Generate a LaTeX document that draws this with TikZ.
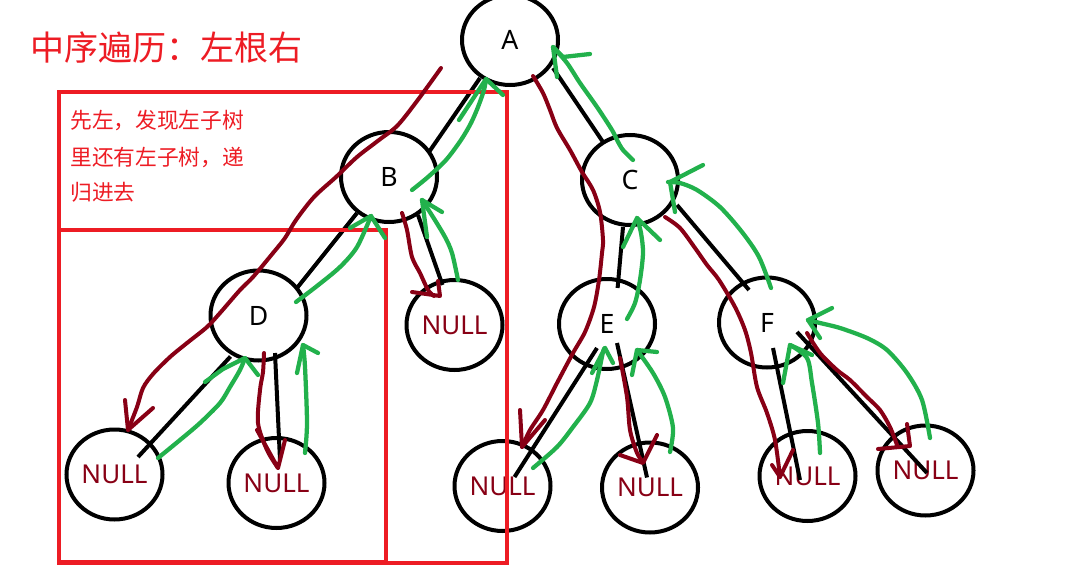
\documentclass[tikz,border=0pt]{standalone}
\usepackage{fontspec}
\setmainfont{Noto Sans}
\newfontfamily\cjk{Noto Sans CJK SC}
\usetikzlibrary{shapes.geometric,calc}
\definecolor{dkred}{HTML}{880015}
\definecolor{grn}{HTML}{22B14C}
\definecolor{boxred}{HTML}{ED1C24}
\tikzset{
  nd/.style={ellipse,draw=black,line width=3pt,minimum width=72pt,minimum height=67.5pt,inner sep=0pt,font=\fontsize{20}{24}\selectfont,fill=white},
  nullnd/.style={nd,text=dkred,font=\fontsize{19.5}{23}\selectfont},
  edge/.style={draw=black,line width=3pt},
  godown/.style={draw=dkred,line width=3pt,line cap=round,line join=round},
  goup/.style={draw=grn,line width=3.2pt,line cap=round,line join=round},
  frame/.style={draw=boxred,line width=3.7pt},
  note/.style={text=boxred,font=\cjk\fontsize{16.3}{20}\selectfont,inner sep=0pt,anchor=west}
}
\begin{document}
\begin{tikzpicture}[x=0.75pt,y=-0.75pt]
\useasboundingbox (0,0) rectangle (1066,578);
% nodes
\node[nd] (A) at (510,40) {A};
\node[nd] (B) at (389,177) {B};
\node[nd] (C) at (630,180) {C};
\node[nd] (D) at (258.5,315.5) {D};
\node[nd] (E) at (607,324) {E};
\node[nd] (F) at (767,322.5) {F};
\node[nullnd] (n1) at (114.5,474.5) {NULL};
\node[nullnd] (n2) at (276.5,483) {NULL};
\node[nullnd] (n3) at (454.5,325) {NULL};
\node[nullnd] (n4) at (502.5,486) {NULL};
\node[nullnd] (n5) at (650,487.5) {NULL};
\node[nullnd] (n6) at (807.5,476) {NULL};
\node[nullnd] (n7) at (925.5,470.5) {NULL};
% black tree edges
\draw[edge] ($(A)+(-30,38)$) -- ($(B)+(40,-25)$);
\draw[edge] ($(A)+(43,28)$) -- ($(C)+(-27,-38)$);
\draw[edge] ($(B)+(-32,36)$) -- ($(D)+(38.5,-27.5)$);
\draw[edge] ($(B)+(29,38)$) -- ($(n3)+(-12,-40)$);
\draw[edge] ($(D)+(-28,41)$) -- ($(n1)+(23.5,-17.5)$);
\draw[edge] ($(D)+(16.5,37.5)$) -- ($(n2)+(3.5,-23)$);
\draw[edge] ($(C)+(-7,47)$) -- ($(E)+(10.6,-36)$);
\draw[edge] ($(C)+(47,25)$) -- ($(F)+(-18,-32.5)$);
\draw[edge] ($(E)+(-10,24)$) -- ($(n4)+(12,-9)$);
\draw[edge] ($(E)+(10,19)$) -- ($(n5)+(-3,-10)$);
\draw[edge] ($(F)+(6,25.5)$) -- ($(n6)+(-7.5,4)$);
\draw[edge] ($(F)+(30,9.5)$) -- ($(n7)+(1.5,2.5)$);
% title and note
\node[text=boxred,font=\cjk\fontsize{25.5}{30}\selectfont,inner sep=0pt] (title) at (166,48) {中序遍历：左根右};
\node[note] (t1) at (70,120) {先左，发现左子树};
\node[note] (t2) at (70,157) {里还有左子树，递};
\node[note] (t3) at (70,192) {归进去};
% red frames
\draw[frame] (59,92) rectangle (507,563);
\draw[frame] (59,230) rectangle (386,562);
% descending strokes (dark red)
\draw[godown] plot[smooth,tension=0.5] coordinates {(441,68) (420,97) (398,125) (379,140) (357,157) (336,177) (314,197) (296,220) (285,238) (273,253) (253,277) (240,290) (220,313) (207,327) (187,343) (170,357) (153,374) (143,388) (137,407) (128,430)};
\draw[godown] (125,400) -- (128,430) -- (153,408);
\draw[godown] plot[smooth,tension=0.5] coordinates {(402,213) (407,230) (412,257) (420,273) (428,290) (434,296)};
\draw[godown] (412,292) -- (440,296) -- (438,281);
\draw[godown] plot[smooth,tension=0.5] coordinates {(264,353) (263,372) (260,390) (258,423) (267,450) (278,468)};
\draw[godown] (257,430) -- (278,468) -- (285,440);
\draw[godown] plot[smooth,tension=0.5] coordinates {(533,76) (543,93) (550,110) (557,128) (570,150) (582,172) (593,190) (600,212) (603,240) (602,253) (599,280) (594,307) (585,332) (573,353) (557,383) (543,410) (530,430) (522,447)};
\draw[godown] (520,410) -- (522,447) -- (545,420);
\draw[godown] plot[smooth,tension=0.5] coordinates {(665,217) (680,228) (695,248) (707,265) (719,280) (735,307) (745,330) (751,353) (757,387) (767,413) (775,440) (780,477)};
\draw[godown] (772,465) -- (780,477) -- (793,450);
\draw[godown] plot[smooth,tension=0.5] coordinates {(620,358) (627,397) (630,430) (637,453) (643,462)};
\draw[godown] (620,455) -- (643,463) -- (657,435);
\draw[godown] plot[smooth,tension=0.5] coordinates {(807,333) (820,353) (837,370) (850,380) (867,397) (880,410) (890,427) (897,445)};
\draw[godown] (878,449) -- (910,446) -- (907,424);
% returning strokes (green)
\draw[goup] plot[smooth,tension=0.5] coordinates {(158,458) (180,440) (200,423) (220,403) (230,387) (240,370) (245,358)};
\draw[goup] (205,382) -- (223,369) -- (245,358) -- (258,375);
\draw[goup] plot[smooth,tension=0.5] coordinates {(305,453) (307,423) (305,367) (303,345)};
\draw[goup] (297,373) -- (303,345) -- (318,353);
\draw[goup] plot[smooth,tension=0.5] coordinates {(296,302) (317,286) (340,267) (357,247) (371,216)};
\draw[goup] (350,228) -- (371,216) -- (385,238);
\draw[goup] plot[smooth,tension=0.5] coordinates {(458,280) (452,253) (445,237) (433,217) (422,200)};
\draw[goup] (427,237) -- (422,200) -- (442,212);
\draw[goup] plot[smooth,tension=0.5] coordinates {(412,190) (428,177) (446,160) (461,140) (471,123) (478,107) (484,90) (486,79)};
\draw[goup] (459,120) -- (486,79) -- (503,95);
\draw[goup] plot[smooth,tension=0.5] coordinates {(633,160) (623,150) (617,140) (612,130) (597,107) (580,83) (567,63) (553,47)};
\draw[goup] (557,77) -- (553,47) -- (563,57) -- (590,54);
\draw[goup] plot[smooth,tension=0.5] coordinates {(771,288) (759,257) (742,232) (720,207) (697,190) (680,183) (668,182)};
\draw[goup] (675,212) -- (670,182) -- (703,165);
\draw[goup] plot[smooth,tension=0.5] coordinates {(627,319) (635,303) (640,280) (643,253) (641,233) (637,218)};
\draw[goup] (623,247) -- (637,218) -- (660,240);
\draw[goup] plot[smooth,tension=0.5] coordinates {(533,468) (557,447) (573,427) (590,403) (597,380) (603,352) (605,348)};
\draw[goup] (592,373) -- (605,348) -- (613,363);
\draw[goup] plot[smooth,tension=0.5] coordinates {(670,452) (673,428) (665,397) (653,373) (637,350)};
\draw[goup] (632,375) -- (637,350) -- (657,352);
\draw[goup] plot[smooth,tension=0.5] coordinates {(820,453) (818,423) (812,383) (807,358) (790,345)};
\draw[goup] (783,383) -- (790,345) -- (812,355);
\draw[goup] plot[smooth,tension=0.5] coordinates {(930,438) (922,400) (907,373) (887,350) (867,338) (840,328) (820,323) (808,320)};
\draw[goup] (820,338) -- (808,320) -- (832,308);
\end{tikzpicture}
\end{document}
